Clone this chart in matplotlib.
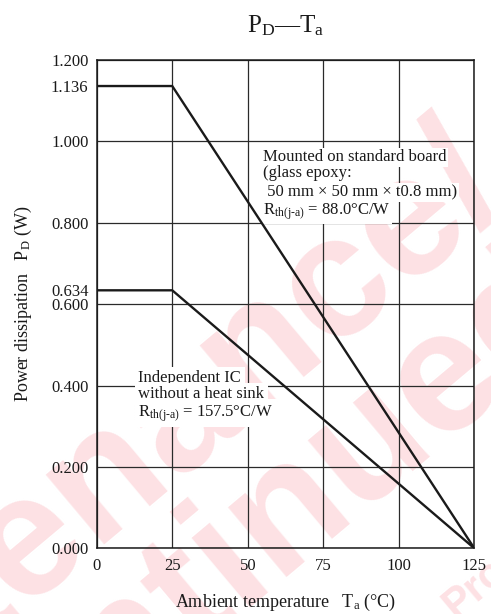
import matplotlib
matplotlib.use("Agg")
import matplotlib.pyplot as plt
from matplotlib.ticker import FixedLocator, FixedFormatter

# derating curves
temps = [0, 25, 125]
pd_board = [1.136, 1.136, 0.0]
pd_free = [0.634, 0.634, 0.0]

x_ticks = [0, 25, 50, 75, 100, 125]
y_grid = [0.0, 0.2, 0.4, 0.6, 0.8, 1.0, 1.2]
y_extra = [0.634, 1.136]

board_note = [
    "Mounted on standard board",
    "(glass epoxy:",
    " 50 mm \u00d7 50 mm \u00d7 t0.8 mm)",
    "R$_{\\rm th(j\\text{-}a)}$ = 88.0\u00b0C/W",
]
free_note = [
    "Independent IC",
    "without a heat sink",
    "R$_{\\rm th(j\\text{-}a)}$ = 157.5\u00b0C/W",
]

_INK = "#1a1a1a"
_PINK = "#fde1e4"
_SERIF = "Liberation Serif"

plt.rcParams["font.family"] = [_SERIF, "DejaVu Serif"]
plt.rcParams["mathtext.fontset"] = "custom"
plt.rcParams["mathtext.rm"] = _SERIF
plt.rcParams["mathtext.it"] = _SERIF + ":italic"

fig = plt.figure(figsize=(4.91, 6.14), dpi=100)

# pale watermark, kept under the axes
wm = dict(color=_PINK, family="Liberation Sans", weight="bold", rotation=40,
          rotation_mode="anchor", zorder=-5)
fig.text(1.0407, 0.6857, "Maintenance/", fontsize=124, ha="right", va="baseline", **wm)
fig.text(1.205, 0.4919, "Discontinued", fontsize=124, ha="right", va="baseline", **wm)
fig.text(0.928, -0.008, "Product", fontsize=30, ha="left", va="baseline", **wm)

ax = fig.add_axes([0.197, 0.107, 0.769, 0.7953])
ax.set_facecolor("none")

ax.plot(temps, pd_board, color=_INK, lw=1.7, zorder=4, solid_joinstyle="miter")
ax.plot(temps, pd_free, color=_INK, lw=1.7, zorder=4, solid_joinstyle="miter")

ax.set_xlim(0, 125)
ax.set_ylim(0, 1.2)
ax.set_xticks(x_ticks)
ax.yaxis.set_major_locator(FixedLocator(y_grid))
ax.yaxis.set_major_formatter(FixedFormatter([f"{v:.3f}" for v in y_grid]))
ax.yaxis.set_minor_locator(FixedLocator(y_extra))
ax.yaxis.set_minor_formatter(FixedFormatter([f"{v:.3f}" for v in y_extra]))
ax.tick_params(axis="both", which="both", length=0, labelsize=12, colors=_INK)
ax.tick_params(axis="y", which="both", pad=6)
ax.tick_params(axis="x", pad=7)
ax.grid(True, which="major", color="#2a2a2a", lw=0.9, zorder=1)
for s in ax.spines.values():
    s.set_color(_INK)
    s.set_linewidth(1.1)

ax.set_xlabel("Ambient temperature   T$_{\\rm a}$ (\u00b0C)", fontsize=13,
              color=_INK, labelpad=13)
ax.set_ylabel("Power dissipation   P$_{\\rm D}$ (W)", fontsize=13,
              color=_INK, labelpad=12)
ax.set_title("P$_{\\rm D}$\u2014T$_{\\rm a}$", fontsize=18, color=_INK, pad=20)

box = dict(facecolor="white", edgecolor="none", pad=1.2)
for text, y in zip(board_note, [0.961, 0.922, 0.874, 0.827]):
    ax.text(55.1, y, text, fontsize=12, color=_INK, ha="left", va="center",
            bbox=box, zorder=3)
for text, y in zip(free_note, [0.418, 0.378, 0.332]):
    ax.text(13.8, y, text, fontsize=12, color=_INK, ha="left", va="center",
            bbox=dict(facecolor="white", edgecolor="none", pad=2.5), zorder=3)

fig.savefig("out.png", dpi=100)
